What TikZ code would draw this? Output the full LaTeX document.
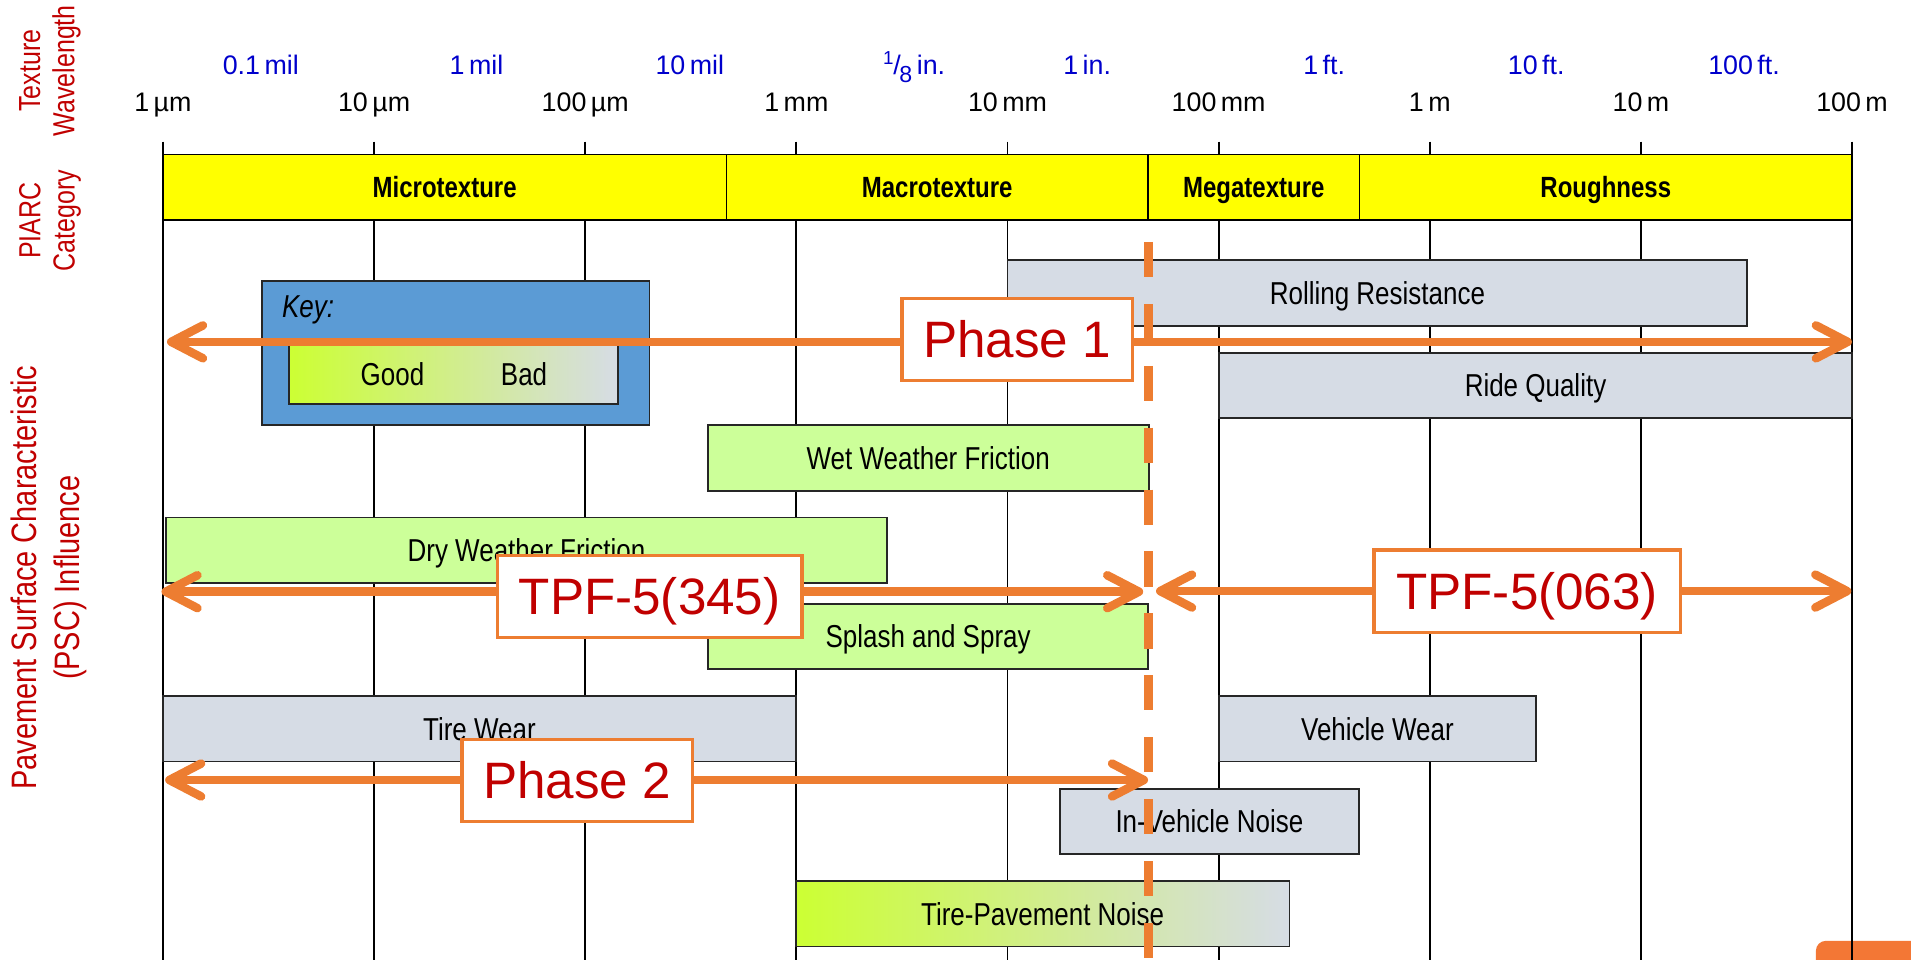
\documentclass[tikz,border=0pt]{standalone}
\usepackage{fontspec}
\setmainfont{Liberation Sans}
\newfontfamily\narrowfont{Liberation Sans}[FakeStretch=0.82]
\usetikzlibrary{arrows.meta}

\definecolor{bandyellow}{HTML}{FFFF00}
\definecolor{greybar}{HTML}{D6DCE5}
\definecolor{greenbar}{HTML}{CCFF99}
\definecolor{limebar}{HTML}{CCFF33}
\definecolor{keyblue}{HTML}{5B9BD5}
\definecolor{phaseorange}{HTML}{ED7D31}
\definecolor{tabred}{HTML}{C00000}
\definecolor{scaleblue}{HTML}{0000CC}
\definecolor{cornerorange}{HTML}{F37735}

\tikzset{
  band/.style={draw=black, line width=0.7pt, fill=bandyellow, minimum height=27pt, inner sep=0pt,
    text height=8.6pt, text depth=0pt, font=\narrowfont\bfseries\fontsize{12}{14}\selectfont},
  pscbar/.style={draw=black!85, line width=0.7pt, minimum height=26.8pt, inner sep=0pt,
    text height=9.3pt, text depth=0pt, font=\narrowfont\fontsize{13}{15}\selectfont},
  axislabel/.style={rotate=90, align=center, text=tabred, font=\narrowfont\fontsize{12.5}{14}\selectfont},
  phasebox/.style={draw=phaseorange, line width=1.4pt, fill=white, text=tabred, minimum height=33.75pt,
    inner sep=0pt, text height=15pt, text depth=0pt, font=\fontsize{21}{24}\selectfont},
  phasearrow/.style={draw=phaseorange, line width=3.5pt, <->},
}

\begin{document}
\begin{tikzpicture}[x=0.5pt, y=-0.5pt, >={Straight Barb[length=13pt,width=13.5pt,round]}]
    \useasboundingbox (0,0) rectangle (1568,787);

    % Угловая плашка
    \fill[cornerorange, rounded corners=4pt] (1490,772) rectangle (1600,820);

    % Вертикальные линии и метрическая шкала
    \foreach \k/\lab in {0/{1\,µm},1/{10\,µm},2/{100\,µm},3/{1\,mm},4/{10\,mm},5/{100\,mm},6/{1\,m},7/{10\,m},8/{100\,m}} {
        \draw[line width=0.75pt] (133.7+173.24*\k,116.3) -- (133.7+173.24*\k,790);
        \node[anchor=base, font=\fontsize{11}{13}\selectfont] (m\k) at (133.7+173.24*\k,91.6) {\lab};
    }

    % Дюймовая шкала
    \foreach \x/\lab [count=\i] in {214/{0.1\,mil},391/{1\,mil},566/{10\,mil},750/{\textsuperscript{1}\kern-0.05em/\kern-0.05em\raisebox{-0.55ex}{\fontsize{9.5}{10}\selectfont 8}\,in.},892/{1\,in.},1086.5/{1\,ft.},1260.5/{10\,ft.},1431/{100\,ft.}}
        \node[anchor=base, text=scaleblue, font=\fontsize{11}{13}\selectfont] (u\i) at (\x,61) {\lab};

    % Подписи слева
    \node[axislabel] (wave) at (41,58) {Texture\\Wavelength};
    \node[axislabel] (piarc) at (41,181) {PIARC\\Category};
    \node[axislabel, font=\narrowfont\fontsize{14.5}{17.5}\selectfont] (psc) at (40,474) {Pavement Surface Characteristic\\(PSC) Influence};

    % Категории PIARC
    \node[band, minimum width=231.15pt] (micro) at (364.85,153.7) {Microtexture};
    \node[band, minimum width=173pt] (macro) at (769,153.7) {Macrotexture};
    \node[band, minimum width=86.75pt] (mega) at (1028.75,153.7) {Megatexture};
    \node[band, minimum width=202pt] (rough) at (1317.55,153.7) {Roughness};

    % Ключ
    \node[draw=black!85, line width=0.7pt, fill=keyblue, minimum width=159pt, minimum height=59pt] (key) at (374,289.5) {};
    \node[draw=black!85, line width=0.7pt, left color=limebar, right color=greybar, minimum width=135pt, minimum height=24pt] (keyscale) at (372,307.5) {};
    \node[anchor=west, inner sep=0pt, font=\narrowfont\itshape\fontsize{13}{15}\selectfont] (keytitle) at (231,254) {Key:};
    \node[text height=9.3pt, text depth=0pt, font=\narrowfont\fontsize{13}{15}\selectfont] (good) at (322,307) {Good};
    \node[text height=9.3pt, text depth=0pt, font=\narrowfont\fontsize{13}{15}\selectfont] (bad) at (430,307) {Bad};

    % Влияние на характеристики
    \node[pscbar, fill=greybar, minimum width=303.5pt] (rolling) at (1130.2,240.4) {Rolling Resistance};
    \node[pscbar, fill=greybar, minimum width=259.7pt] (ride) at (1259.9,316.3) {Ride Quality};
    \node[pscbar, fill=greenbar, minimum width=180.9pt] (wet) at (761.6,375.8) {Wet Weather Friction};
    \node[pscbar, fill=greenbar, minimum width=295.8pt] (dry) at (432,451.5) {Dry Weather Friction};
    \node[pscbar, fill=greenbar, minimum width=180.5pt] (splash) at (761.5,522.1) {Splash and Spray};
    \node[pscbar, fill=greybar, minimum width=259.7pt] (tirewear) at (393.4,598.1) {Tire Wear};
    \node[pscbar, fill=greybar, minimum width=130pt] (vehwear) at (1130.2,598) {Vehicle Wear};
    \node[pscbar, fill=greybar, minimum width=122.7pt] (invehicle) at (992.3,674) {In-Vehicle Noise};
    \node[pscbar, left color=limebar, right color=greybar, minimum width=202.5pt] (tpnoise) at (855.5,749.7) {Tire-Pavement Noise};

    % Граница этапов
    \coordinate (dtop) at (942.5,198.5);
    \coordinate (dbot) at (942.5,792);
    \draw[phaseorange, line width=3.6pt, dash pattern=on 14.4pt off 11pt] (dtop) -- (dbot);

    % Этапы
    \coordinate (p1l) at (137,280.5);
    \coordinate (p1r) at (1519.5,280.5);
    \draw[phasearrow] (p1l) -- (p1r);
    \node[phasebox, minimum width=94.5pt] (phase1) at (834.5,278.5) {Phase 1};

    \coordinate (t3l) at (132.5,485.5);
    \coordinate (t3r) at (938,485.5);
    \draw[phasearrow] (t3l) -- (t3r);
    \node[phasebox, minimum width=125pt] (tpf345) at (533,489.5) {TPF-5(345)};

    \coordinate (t0l) at (948.5,485);
    \coordinate (t0r) at (1519,485);
    \draw[phasearrow] (t0l) -- (t0r);
    \node[phasebox, minimum width=125.75pt] (tpf063) at (1253,485) {TPF-5(063)};

    \coordinate (p2l) at (135.5,640);
    \coordinate (p2r) at (942,640);
    \draw[phasearrow] (p2l) -- (p2r);
    \node[phasebox, minimum width=94.5pt] (phase2) at (473.5,640.5) {Phase 2};
\end{tikzpicture}
\end{document}
